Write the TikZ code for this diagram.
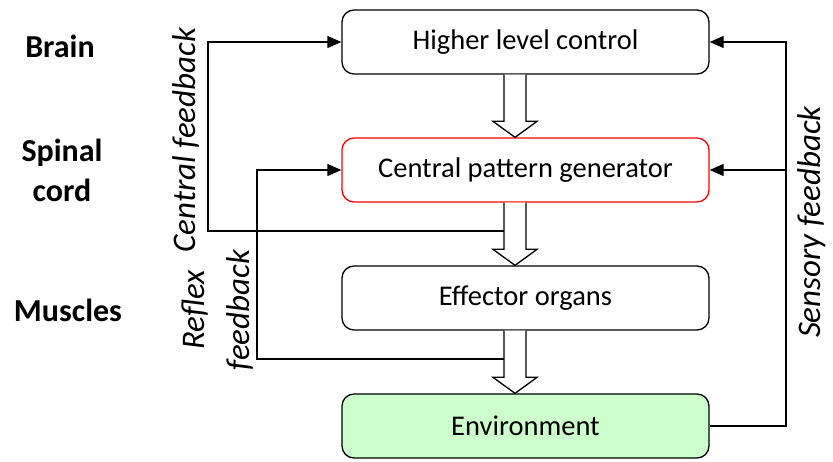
\documentclass[tikz,border=0pt]{standalone}
\usepackage{fontspec}
\setmainfont{Carlito}
\usetikzlibrary{arrows.meta}
\begin{document}
\begin{tikzpicture}[x=1pt,y=-1pt,
  box/.style={draw, line width=1.3pt, rounded corners=12pt, minimum width=367pt, minimum height=64pt, font=\fontsize{28.5}{32}\selectfont, inner sep=0pt},
  fb/.style={draw, line width=1.3pt, -{Triangle[length=14pt,width=12pt]}},
  ln/.style={draw, line width=1.3pt},
  lab/.style={font=\bfseries\fontsize{32}{40}\selectfont, align=center},
  rlab/.style={font=\itshape\fontsize{33}{45}\selectfont, align=center, rotate=90}]
\useasboundingbox (0,0) rectangle (833,462);
\node[box] (hlc) at (525.5,42) {Higher level control};
\node[box, draw=red] (cpg) at (525.5,170) {Central pattern generator};
\node[box] (eff) at (525.5,298) {Effector organs};
\node[box, fill={rgb,255:red,204;green,255;blue,204}] (env) at (525.5,426) {Environment};
% block arrows
\foreach \a/\b in {hlc/cpg, cpg/eff, eff/env}{
  \draw[line width=1.3pt, fill=white, line join=miter]
    (\a.south -| 504,0) -- ([yshift=16pt]\b.north -| 504,0) -- ([yshift=16pt]\b.north -| 493,0)
    -- (\b.north -| 515,0) -- ([yshift=16pt]\b.north -| 537,0) -- ([yshift=16pt]\b.north -| 526,0)
    -- (\a.south -| 526,0);
}
% central feedback
\coordinate (c1) at (504,231);
\coordinate (c2) at (208,231);
\draw[fb] (c1) -- (c2) |- (hlc.west);
% reflex feedback
\coordinate (r1) at (504,359);
\coordinate (r2) at (257,359);
\draw[fb] (r1) -- (r2) |- (cpg.west);
% sensory feedback
\coordinate (s1) at (786,426);
\coordinate (s2) at (786,170);
\draw[ln] (env.east) -- (s1) -- (s2);
\draw[fb] (s2) |- (hlc.east);
\draw[fb] (s2) -- (cpg.east);
% labels
\node[lab] (brain) at (60,46) {Brain};
\node[lab] (spinal) at (62,170) {Spinal\\cord};
\node[lab] (musc) at (68,310) {Muscles};
\node[rlab] (cfb) at (186,140) {Central feedback};
\node[rlab] (rfb) at (218,310) {Reflex\\feedback};
\node[rlab] (sfb) at (812,222) {Sensory feedback};
\end{tikzpicture}
\end{document}
